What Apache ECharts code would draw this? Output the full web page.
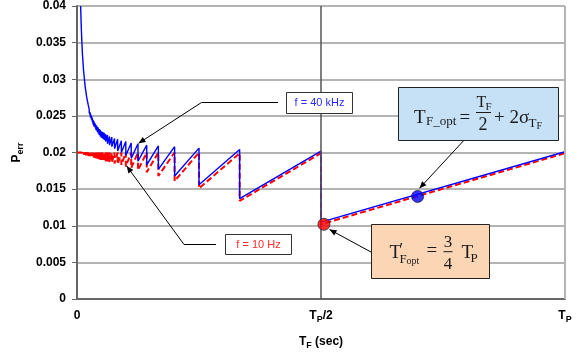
<!DOCTYPE html>
<html>
<head>
<meta charset="utf-8">
<script src="https://cdn.jsdelivr.net/npm/echarts@6/dist/echarts.min.js"></script>
<style>
html, body { margin: 0; padding: 0; background: #fff; }
#chart { width: 585px; height: 361px; }
</style>
</head>
<body>
<div id="chart"></div>
<script>
// T_F in units of T_P, values are P_err
var redX = [0,
  0.01, 0.01, 0.0111, 0.0111, 0.0118, 0.0118, 0.0125, 0.0125, 0.0133, 0.0133, 0.0143, 0.0143,
  0.0154, 0.0154, 0.0167, 0.0167, 0.0175, 0.0175, 0.0185, 0.0185, 0.0192, 0.0192, 0.02, 0.02,
  0.0208, 0.0208, 0.0217, 0.0217, 0.0227, 0.0227, 0.0238, 0.0238, 0.025, 0.025, 0.0263, 0.0263,
  0.027, 0.027, 0.0278, 0.0278, 0.0286, 0.0286, 0.0294, 0.0294, 0.0303, 0.0303, 0.0313, 0.0313,
  0.0323, 0.0323, 0.0333, 0.0333, 0.0345, 0.0345, 0.0357, 0.0357, 0.037, 0.037, 0.0385, 0.0385,
  0.04, 0.04, 0.0417, 0.0417, 0.0435, 0.0435, 0.0455, 0.0455, 0.0476, 0.0476, 0.05, 0.05,
  0.0526, 0.0526, 0.0556, 0.0556, 0.0588, 0.0588, 0.0625, 0.0625, 0.0667, 0.0667,
  0.0714, 0.0714, 0.0769, 0.0769, 0.0833, 0.0833, 0.0909, 0.0909, 0.1, 0.1, 0.1111, 0.1111,
  0.125, 0.125, 0.1429, 0.1429, 0.1667, 0.1667, 0.2, 0.2, 0.25, 0.25, 0.3333, 0.3333, 0.5, 0.5, 1];
var redY = [0.0200,
  0.0200, 0.0198, 0.0200, 0.0198, 0.0200, 0.0198, 0.0200, 0.0198, 0.0200, 0.0197, 0.0200, 0.0197,
  0.0200, 0.0197, 0.0200, 0.0197, 0.0200, 0.0197, 0.0200, 0.0196, 0.0200, 0.0196, 0.0200, 0.0196,
  0.0200, 0.0196, 0.0200, 0.0196, 0.0200, 0.0195, 0.0200, 0.0195, 0.0200, 0.0195, 0.0200, 0.0195,
  0.0200, 0.0195, 0.0200, 0.0194, 0.0200, 0.0194, 0.0200, 0.0194, 0.0200, 0.0194, 0.0200, 0.0194,
  0.0200, 0.0194, 0.0200, 0.0193, 0.0200, 0.0193, 0.0200, 0.0193, 0.0200, 0.0193, 0.0200, 0.0192,
  0.0200, 0.0192, 0.0200, 0.0192, 0.0200, 0.0191, 0.0200, 0.0191, 0.0200, 0.0190, 0.0200, 0.0190,
  0.0200, 0.0189, 0.0200, 0.0189, 0.0200, 0.0188, 0.0200, 0.0188, 0.0200, 0.0187,
  0.0200, 0.0186, 0.0200, 0.0185, 0.0200, 0.0184, 0.0200, 0.0183, 0.0200, 0.0181, 0.0200, 0.0179,
  0.0200, 0.0176, 0.0200, 0.0173, 0.0200, 0.0168, 0.0200, 0.0161, 0.0200, 0.0151, 0.0199, 0.0134, 0.0199, 0.0102, 0.0199];

var blueX = [0.0075, 0.0085, 0.0095, 0.011, 0.0133, 0.0167, 0.02, 0.0227,
  0.025, 0.025, 0.0263, 0.0263, 0.027, 0.027, 0.0278, 0.0278, 0.0286, 0.0286, 0.0294, 0.0294,
  0.0303, 0.0303, 0.0313, 0.0313, 0.0323, 0.0323, 0.0333, 0.0333, 0.0345, 0.0345, 0.0357, 0.0357,
  0.037, 0.037, 0.0385, 0.0385, 0.04, 0.04, 0.0417, 0.0417, 0.0435, 0.0435, 0.0455, 0.0455,
  0.0476, 0.0476, 0.05, 0.05, 0.0526, 0.0526,
  0.0556, 0.0556, 0.0588, 0.0588, 0.0625, 0.0625, 0.0667, 0.0667, 0.0714, 0.0714, 0.0769, 0.0769,
  0.0833, 0.0833, 0.0909, 0.0909, 0.1, 0.1, 0.1111, 0.1111, 0.125, 0.125, 0.1429, 0.1429,
  0.1667, 0.1667, 0.2, 0.2, 0.25, 0.25, 0.3333, 0.3333, 0.5, 0.5, 1];
var blueY = [0.0400, 0.0376, 0.0358, 0.0336, 0.0313, 0.0290, 0.0275, 0.0266,
  0.0259, 0.0255, 0.0256, 0.0252, 0.0255, 0.0251, 0.0253, 0.0248, 0.0252, 0.0247, 0.0250, 0.0245,
  0.0249, 0.0244, 0.0247, 0.0242, 0.0245, 0.0240, 0.0244, 0.0238, 0.0243, 0.0236, 0.0241, 0.0235,
  0.0240, 0.0234, 0.0238, 0.0231, 0.0237, 0.0230, 0.0235, 0.0228, 0.0234, 0.0226, 0.0232, 0.0224,
  0.0231, 0.0222, 0.0229, 0.0220, 0.0228, 0.0219,
  0.0227, 0.0217, 0.0225, 0.0215, 0.0224, 0.0212, 0.0222, 0.0210, 0.0221, 0.0208, 0.0219, 0.0205,
  0.0218, 0.0202, 0.0216, 0.0200, 0.0215, 0.0196, 0.0213, 0.0192, 0.0212, 0.0188, 0.0210, 0.0183,
  0.0209, 0.0177, 0.0208, 0.0168, 0.0206, 0.0156, 0.0204, 0.0137, 0.0202, 0.0105, 0.0201];

// optimum points
var dotX = [0.506, 0.698];
var dotY = [0.0102, 0.0140];
var dotColors = ['#ff0000', '#0000ff'];

var xTickLabels = { 0: '{a|0}', 0.5: '{a|T}{s|P}{a|/2}', 1: '{a|T}{s|P}' };

function zip(xs, ys) {
  var out = [];
  for (var i = 0; i < xs.length; i++) out.push([xs[i], ys[i]]);
  return out;
}

var boldRich = {
  a: { fontSize: 12, fontWeight: 'bold', fontFamily: 'Liberation Sans', color: '#000', lineHeight: 14, verticalAlign: 'top' },
  s: { fontSize: 9, fontWeight: 'bold', fontFamily: 'Liberation Sans', color: '#000', lineHeight: 10, padding: [6, 0, 0, 0] }
};

function txt(s, x, y, fs, extra) {
  var st = { text: s, x: x, y: y, fontSize: fs, fontFamily: 'Liberation Serif', fill: '#1a1a1a',
    align: 'left', verticalAlign: 'middle' };
  if (extra) for (var k in extra) st[k] = extra[k];
  return { type: 'text', style: st, z: 110 };
}
function seg(x1, y1, x2, y2) {
  return { type: 'line', shape: { x1: x1, y1: y1, x2: x2, y2: y2 }, style: { stroke: '#1a1a1a', lineWidth: 1 }, z: 110 };
}
function head(x1, y1, x2, y2) {
  var a = Math.atan2(y2 - y1, x2 - x1), L = 7, W = 3;
  var c = Math.cos(a), s = Math.sin(a);
  return { type: 'polygon', z: 100, style: { fill: '#000' },
    shape: { points: [[x2, y2], [x2 - L * c + W * s, y2 - L * s - W * c], [x2 - L * c - W * s, y2 - L * s + W * c]] } };
}
function leader(pts) {
  var n = pts.length;
  return [
    { type: 'polyline', shape: { points: pts }, style: { stroke: '#000', lineWidth: 1, fill: null }, z: 100 },
    head(pts[n - 2][0], pts[n - 2][1], pts[n - 1][0], pts[n - 1][1])
  ];
}

var elements = [].concat(
  leader([[278, 102.5], [201.5, 102.5], [138.5, 143.3]]),
  leader([[216, 244.5], [184, 244.5], [126.7, 166]]),
  leader([[463.3, 141], [419.5, 188.3]]),
  leader([[371.5, 252.3], [329.5, 229.5]]),
  [
    { type: 'rect', shape: { x: 286.5, y: 92.5, width: 66, height: 21 }, style: { fill: '#fff', stroke: '#333', lineWidth: 1 }, z: 100 },
    { type: 'text', z: 110, style: { text: 'f = 40 kHz', x: 319.5, y: 103, fontSize: 11, fontFamily: 'Liberation Sans', fill: '#2b2bff', align: 'center', verticalAlign: 'middle' } },
    { type: 'rect', shape: { x: 225.5, y: 234.5, width: 66, height: 20 }, style: { fill: '#fff', stroke: '#333', lineWidth: 1 }, z: 100 },
    { type: 'text', z: 110, style: { text: 'f = 10 Hz', x: 258.5, y: 244.5, fontSize: 11, fontFamily: 'Liberation Sans', fill: '#ff2b2b', align: 'center', verticalAlign: 'middle' } },

    { type: 'rect', shape: { x: 398.5, y: 87.5, width: 160, height: 53 }, style: { fill: '#c6e0f5', stroke: '#222', lineWidth: 1 }, z: 100 },
    txt('T', 414, 117.7, 19),
    txt('F_opt', 426, 121.7, 13),
    txt('=', 459.5, 117.7, 19),
    txt('T', 476.5, 103, 16),
    txt('F', 485.5, 107, 11),
    seg(476, 112.5, 491, 112.5),
    txt('2', 483, 125, 18, { align: 'center' }),
    txt('+ 2σ', 494, 117.7, 19),
    txt('T', 528.5, 124, 13),
    txt('F', 536.5, 126.7, 10),

    { type: 'rect', shape: { x: 371.5, y: 224.5, width: 118, height: 54 }, style: { fill: '#fcd5b4', stroke: '#222', lineWidth: 1 }, z: 100 },
    txt('T', 389.5, 252.7, 19),
    txt('′', 399.5, 250, 16),
    txt('F', 399.5, 259.7, 13),
    txt('opt', 406.5, 261.7, 10),
    txt('=', 426.5, 251.2, 19),
    txt('3', 448, 242.7, 17, { align: 'center' }),
    seg(443.5, 251.7, 452.5, 251.7),
    txt('4', 448, 264.4, 17, { align: 'center' }),
    txt('T', 461.5, 252.7, 19),
    txt('P', 470.5, 258.7, 13)
  ]
);

var chart = echarts.init(document.getElementById('chart'));
chart.setOption({
  animation: false,
  grid: { left: 77, right: 20, top: 6, bottom: 62 },
  xAxis: {
    type: 'value', min: 0, max: 1, interval: 0.5,
    name: '{a|T}{s|F}{a| (sec)}', nameLocation: 'middle', nameGap: 37,
    nameTextStyle: { rich: boldRich },
    axisLine: { lineStyle: { color: '#666', width: 2 } },
    axisTick: { show: false },
    splitLine: { show: false },
    axisLabel: {
      margin: 11,
      formatter: function (v) { return xTickLabels[v]; },
      rich: boldRich
    }
  },
  yAxis: {
    type: 'value', min: 0, max: 0.04, interval: 0.005,
    name: '{a|P}{s|err}', nameLocation: 'middle', nameGap: 44, nameRotate: 90,
    nameTextStyle: { rich: boldRich },
    axisLine: { show: true, lineStyle: { color: '#666', width: 2 } },
    axisTick: { show: true, length: 5, lineStyle: { color: '#666' } },
    splitLine: { lineStyle: { color: '#b4b4b4', width: 2 } },
    axisLabel: {
      margin: 11, fontSize: 12, fontWeight: 'bold', fontFamily: 'Liberation Sans', color: '#000',
      formatter: function (v) { return String(+v.toFixed(3)); }
    }
  },
  series: [
    {
      type: 'line', data: [], silent: true,
      markLine: {
        silent: true, symbol: 'none', label: { show: false },
        data: [
          { xAxis: 0.5, lineStyle: { color: '#555', width: 1.5, type: 'solid' } },
          { xAxis: 1, lineStyle: { color: '#b4b4b4', width: 2, type: 'solid' } }
        ]
      }
    },
    {
      name: 'f = 10 Hz', type: 'line', data: zip(redX, redY), showSymbol: false, z: 3,
      lineStyle: { color: '#ff0000', width: 2, type: [6, 3] }
    },
    {
      name: 'f = 40 kHz', type: 'line', data: zip(blueX, blueY), showSymbol: false, z: 4,
      lineStyle: { color: '#0000ff', width: 1.4 }
    },
    {
      type: 'scatter', z: 6, symbolSize: 12,
      data: dotX.map(function (x, i) {
        return { value: [x, dotY[i]], itemStyle: { color: dotColors[i], borderColor: '#202040', borderWidth: 1 } };
      })
    }
  ],
  graphic: { elements: elements }
});
</script>
</body>
</html>
